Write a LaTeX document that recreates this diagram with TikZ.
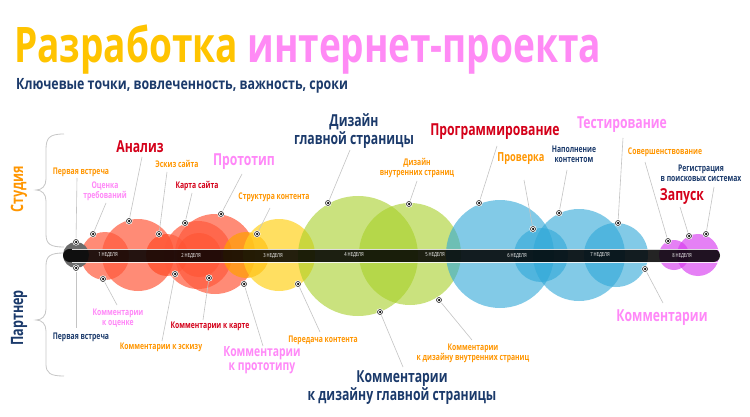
\documentclass[tikz,border=0pt]{standalone}
\usepackage{fontspec}
\setmainfont{Open Sans}
\newfontfamily\cf[FakeStretch=0.8]{Open Sans}
\newfontfamily\cft[FakeStretch=0.757]{Open Sans}
\newfontfamily\cfl[FakeStretch=0.74]{Open Sans}
\definecolor{ttlyellow}{HTML}{FFC400}
\definecolor{ttlpink}{HTML}{FF8AF5}
\definecolor{cnavy}{HTML}{1B3A6B}
\definecolor{corange}{HTML}{FF9600}
\definecolor{cred}{HTML}{D4001A}
\definecolor{cpink}{HTML}{FF88F8}
\definecolor{salmon}{HTML}{FF5A3C}
\definecolor{redd}{HTML}{FF3A10}
\definecolor{yel}{HTML}{FFD21F}
\definecolor{ora}{HTML}{FFA000}
\definecolor{grn}{HTML}{A8D028}
\definecolor{blu}{HTML}{2FA8D8}
\definecolor{mag}{HTML}{D83CF0}
\definecolor{leadc}{HTML}{C4C4C4}
\tikzset{
  lbl/.style={inner sep=0, align=center},
  sm/.style={lbl, font=\cfl\bfseries\fontsize{9.2}{10.5}\selectfont},
  md/.style={lbl, font=\cfl\bfseries\fontsize{12.5}{14}\selectfont},
  mdl/.style={lbl, font=\cfl\bfseries\fontsize{14}{14.5}\selectfont},
  lg/.style={lbl, font=\cfl\bfseries\fontsize{16.5}{18.5}\selectfont},
  side/.style={lbl, rotate=90, font=\cfl\bfseries\fontsize{17}{17}\selectfont},
  wk/.style={inner sep=0, text=white!85, font=\cfl\fontsize{5.6}{6}\selectfont},
  bub/.style={fill opacity=0.7},
  leader/.style={draw=leadc, line width=0.6pt},
  brace/.style={draw=black!22, line width=0.8pt},
  dotn/.style={circle, fill=white, inner sep=0, minimum size=7.2pt,
    path picture={\draw[line width=0.6pt, black!85] (path picture bounding box.center) circle (2.5pt);
      \fill[black] (path picture bounding box.center) circle (1.25pt);}}
}
\begin{document}
\begin{tikzpicture}[x=1pt,y=-1pt]
\useasboundingbox (0,0) rectangle (750,417);
\fill[white] (0,0) rectangle (750,417);

% title
\node[anchor=base west, inner sep=0, font=\cft\bfseries\fontsize{49}{49}\selectfont] (title) at (14,63)
  {\textcolor{ttlyellow}{Разработка} \textcolor{ttlpink}{интернет-проекта}};
\node[anchor=base west, inner sep=0, text=cnavy, font=\cf\bfseries\fontsize{15.5}{16}\selectfont] (subtitle) at (16,90)
  {Ключевые точки, вовлеченность, важность, сроки};

% braces
\draw[brace] (64,134) .. controls (49,134) and (46,138) .. (46,150) -- (46,179)
  .. controls (46,186) and (42,190) .. (36,190) .. controls (42,190) and (46,194) .. (46,201)
  -- (46,234) .. controls (46,244) and (50,247) .. (64,247);
\draw[brace] (64,253) .. controls (50,253) and (46,256) .. (46,266) -- (46,309)
  .. controls (46,316) and (42,320) .. (36,320) .. controls (42,320) and (46,324) .. (46,331)
  -- (46,364) .. controls (46,373) and (50,376) .. (64,376);
\node[side, text=corange] (studio) at (19,189) {Студия};
\node[side, text=cnavy] (partner) at (19,318) {Партнер};

% bubbles
\fill[bub, salmon] (105,256) circle (24);
\fill[bub, salmon] (138,255) circle (36);
\fill[bub, redd, fill opacity=0.55] (167,255) circle (21);
\fill[bub, salmon] (198,255) circle (34);
\fill[bub, redd, fill opacity=0.55] (199,255) circle (22);
\fill[bub, salmon] (215,254) circle (40);
\fill[bub, ora] (246,255) circle (23);
\fill[bub, yel] (279,255) circle (36);
\fill[bub, grn, fill opacity=0.6] (358,256) circle (60);
\fill[bub, grn, fill opacity=0.6] (410,254) circle (51);
\fill[bub, blu, fill opacity=0.6] (500,254) circle (54);
\fill[bub, blu, fill opacity=0.6] (541,255) circle (27);
\fill[bub, blu, fill opacity=0.6] (579,255) circle (46);
\fill[bub, blu, fill opacity=0.6] (616,255) circle (32);
\fill[bub, mag, fill opacity=0.65] (674,255) circle (15);
\fill[bub, mag, fill opacity=0.65] (698,255) circle (21);
\fill[black!58] (76,255) circle (13);

% timeline bar
\fill[black, fill opacity=0.86, rounded corners=6.5pt] (63,249) rectangle (720,262);
\draw[white, opacity=0.85, line width=0.8pt] (72,249) -- (719,249);
\draw[white, opacity=0.85, line width=0.8pt] (72,262) -- (719,262);
\node[wk] (w1) at (108,255.5) {1 НЕДЕЛЯ};
\node[wk] (w2) at (191,255.5) {2 НЕДЕЛЯ};
\node[wk] (w3) at (273,255.5) {3 НЕДЕЛЯ};
\node[wk] (w4) at (354,255.5) {4 НЕДЕЛЯ};
\node[wk] (w5) at (435,255.5) {5 НЕДЕЛЯ};
\node[wk] (w6) at (517,255.5) {6 НЕДЕЛЯ};
\node[wk] (w7) at (600,255.5) {7 НЕДЕЛЯ};
\node[wk] (w8) at (682,255.5) {8 НЕДЕЛЯ};

% labels (studio)
\node[sm, text=corange] (t1) at (81,172) {Первая встреча};
\node[sm, text=cpink] (t2) at (105,191.5) {Оценка\\требований};
\node[lg, text=cred] (t3) at (140,147) {Анализ};
\node[sm, text=corange] (t4) at (177,164) {Эскиз сайта};
\node[sm, text=cred] (t5) at (197,186) {Карта сайта};
\node[lg, text=cpink] (t6) at (244,162) {Прототип};
\node[sm, text=corange] (t7) at (274,197) {Структура контента};
\node[lg, text=cnavy] (t8) at (354,131) {Дизайн\\главной страницы};
\node[sm, text=corange] (t9) at (417,168) {Дизайн\\внутренних страниц};
\node[lg, text=cred] (t10) at (495,132) {Программирование};
\node[md, text=corange] (t11) at (521,159) {Проверка};
\node[sm, text=cnavy] (t12) at (574,154.5) {Наполнение\\контентом};
\node[lg, text=cpink] (t13) at (622,125) {Тестирование};
\node[sm, text=corange] (t14) at (665,152) {Совершенствование};
\node[sm, text=cnavy] (t15) at (701,173.5) {Регистрация\\в поисковых системах};
\node[lg, text=cred] (t16) at (682,197) {Запуск};

% labels (partner)
\node[sm, text=cnavy] (b1) at (81,337) {Первая встреча};
\node[sm, text=cpink] (b2) at (118,318) {Комментарии\\к оценке};
\node[sm, text=corange] (b3) at (161,347) {Комментарии к эскизу};
\node[sm, text=cred] (b4) at (210,326) {Комментарии к карте};
\node[mdl, text=cpink] (b5) at (262,360) {Комментарии\\к прототипу};
\node[sm, text=corange] (b6) at (323,340) {Передача контента};
\node[lg, text=cnavy] (b7) at (402,387.5) {Комментарии\\к дизайну главной страницы};
\node[sm, text=corange] (b8) at (473,353.5) {Комментарии\\к дизайну внутренних страниц};
\node[lg, text=cpink] (b9) at (662,318) {Комментарии};

% leader ends
\coordinate (e1) at (77,178);   \coordinate (e2) at (106,203);
\coordinate (e3) at (142,157);  \coordinate (e4) at (167,172);
\coordinate (e5) at (192,193);  \coordinate (e6) at (242,174);
\coordinate (e7) at (270,208);  \coordinate (e8) at (350,150);
\coordinate (e9) at (417,181);  \coordinate (e10) at (497,146);
\coordinate (e11) at (524,180); \coordinate (e12) at (567,170);
\coordinate (e13) at (623,138); \coordinate (e14) at (645,162);
\coordinate (e15) at (714,187); \coordinate (e16) at (680,207);
\coordinate (f1) at (76,328);   \coordinate (f2) at (117,305);
\coordinate (f3) at (162,341);  \coordinate (f4) at (203,320);
\coordinate (f5) at (263,346);  \coordinate (f6) at (320,332);
\coordinate (f7) at (403,367);  \coordinate (f8) at (472,340);
\coordinate (f9) at (663,303);

% dots
\node[dotn] (d1) at (76,242) {};   \node[dotn] (d2) at (93,234) {};
\node[dotn] (d3) at (129,221) {};  \node[dotn] (d4) at (159,234) {};
\node[dotn] (d5) at (185,223) {};  \node[dotn] (d6) at (221,214) {};
\node[dotn] (d7) at (257,234) {};  \node[dotn] (d8) at (328,203) {};
\node[dotn] (d9) at (409,204) {};  \node[dotn] (d10) at (479,203) {};
\node[dotn] (d11) at (533,229) {}; \node[dotn] (d12) at (559,213) {};
\node[dotn] (d13) at (618,223) {}; \node[dotn] (d14) at (668,241) {};
\node[dotn] (d15) at (706,234) {}; \node[dotn] (d16) at (689,236) {};
\node[dotn] (g1) at (76,268) {};   \node[dotn] (g2) at (103,279) {};
\node[dotn] (g3) at (175,274) {};  \node[dotn] (g4) at (209,278) {};
\node[dotn] (g5) at (244,284) {};  \node[dotn] (g6) at (298,284) {};
\node[dotn] (g7) at (380,312) {};  \node[dotn] (g8) at (439,300) {};
\node[dotn] (g9) at (645,269) {};

% leaders
\foreach \i in {1,...,16} { \draw[leader] (d\i) -- (e\i); }
\foreach \i in {1,...,9} { \draw[leader] (g\i) -- (f\i); }
\end{tikzpicture}
\end{document}
